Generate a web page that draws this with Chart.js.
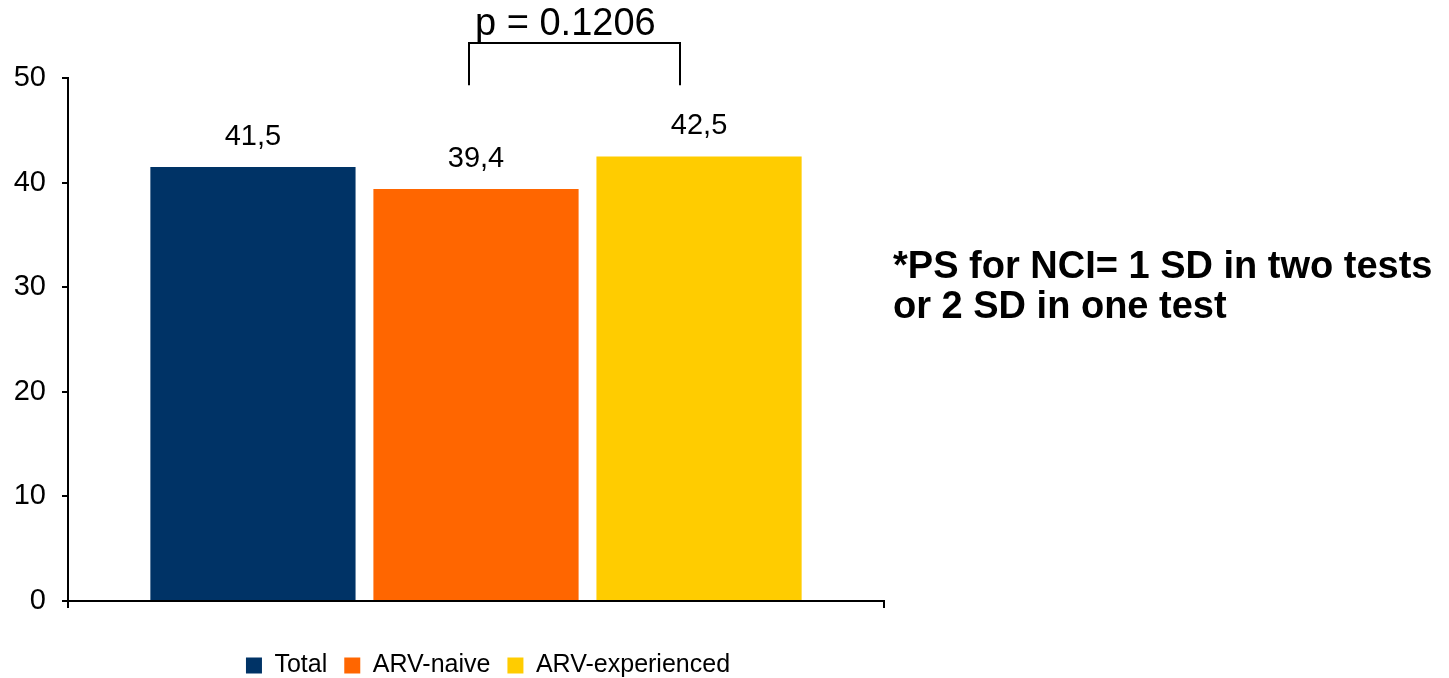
<!DOCTYPE html>
<html><head><meta charset="utf-8">
<script src="https://cdn.jsdelivr.net/npm/chart.js@4"></script>
<style>
html,body{margin:0;padding:0;background:#fff;overflow:hidden;width:1449px;height:678px}
#wrap{position:absolute;left:0;top:0;width:976px;height:688px}
#note{position:absolute;left:893px;top:245px;font-family:"Liberation Sans",Arial,sans-serif;font-weight:bold;font-size:38px;line-height:40px;color:#000;white-space:nowrap}
</style></head><body>
<div id="wrap"><canvas id="c" width="976" height="688"></canvas></div>
<div id="note">*PS for NCI= 1 SD in two tests<br>or 2 SD in one test</div>
<script>
const categories = [""];
const seriesNames = ["Total", "ARV-naive", "ARV-experienced"];
const seriesValues = [41.5, 39.4, 42.5];
const seriesColors = ["#003366", "#FF6600", "#FFCC00"];
const yTickValues = [0, 10, 20, 30, 40, 50];
const pValueLabel = "p = 0.1206";
const bracketTop = 53.3, bracketBottom = 49.3;

const FONT = '"Liberation Sans", Arial, sans-serif';

const datasets = seriesNames.map((name, i) => ({
  label: name,
  data: [seriesValues[i]],
  backgroundColor: seriesColors[i],
  borderWidth: 0
}));

const valueLabels = {
  id: 'valueLabels',
  afterDatasetsDraw(chart) {
    const ctx = chart.ctx;
    chart.data.datasets.forEach((ds, i) => {
      chart.getDatasetMeta(i).data.forEach((bar, j) => {
        ctx.save();
        ctx.font = '29px ' + FONT;
        ctx.fillStyle = '#000';
        ctx.textAlign = 'center';
        ctx.textBaseline = 'middle';
        ctx.fillText(String(ds.data[j]).replace('.', ','), bar.x, bar.y - 30);
        ctx.restore();
      });
    });
  }
};

const bracket = {
  id: 'bracket',
  afterDraw(chart) {
    const ctx = chart.ctx;
    const y = chart.scales.y;
    const b1 = chart.getDatasetMeta(1).data[0];
    const b2 = chart.getDatasetMeta(2).data[0];
    const x1 = Math.round(b1.x - 7.5), x2 = Math.round(b2.x - 19);
    const yt = Math.round(y.getPixelForValue(bracketTop)), yb = y.getPixelForValue(bracketBottom);
    ctx.save();
    ctx.strokeStyle = '#000';
    ctx.lineWidth = 2;
    ctx.beginPath();
    ctx.moveTo(x1, yb); ctx.lineTo(x1, yt); ctx.lineTo(x2, yt); ctx.lineTo(x2, yb);
    ctx.stroke();
    ctx.font = '38px ' + FONT;
    ctx.fillStyle = '#000';
    ctx.textBaseline = 'alphabetic';
    ctx.textAlign = 'left';
    ctx.fillText(pValueLabel, x1 + 6, yt - 8);
    ctx.restore();
  }
};

new Chart(document.getElementById('c'), {
  type: 'bar',
  data: { labels: categories, datasets },
  options: {
    responsive: false,
    devicePixelRatio: 1,
    animation: false,
    layout: { padding: { top: 78, right: 0, left: 0, bottom: 0 } },
    datasets: { bar: { categoryPercentage: 0.82, barPercentage: 0.92 } },
    scales: {
      x: {
        grid: { display: true, drawOnChartArea: false, offset: true, tickLength: 7, color: '#000', lineWidth: 2 },
        border: { display: true, color: '#000', width: 2 },
        ticks: { display: false },
        afterFit(s) { s.height = 35; }
      },
      y: {
        min: 0, max: 50,
        afterBuildTicks(s) { s.ticks = yTickValues.map(v => ({ value: v })); },
        grid: { display: true, drawOnChartArea: false, tickLength: 6, color: '#000', lineWidth: 2 },
        border: { display: true, color: '#000', width: 2 },
        ticks: { color: '#000', font: { family: FONT, size: 29 }, padding: 16 },
        afterFit(s) { s.width = 68; }
      },
      spacer: {
        type: 'linear',
        position: 'right',
        display: true,
        grid: { display: false },
        border: { display: false },
        ticks: { display: false },
        afterFit(s) { s.width = 92; }
      }
    },
    plugins: {
      legend: {
        position: 'bottom',
        labels: { boxWidth: 16, boxHeight: 16, padding: 17, color: '#000', font: { family: FONT, size: 25 } }
      },
      tooltip: { enabled: false },
      title: { display: false }
    }
  },
  plugins: [valueLabels, bracket]
});
</script>
</body></html>
